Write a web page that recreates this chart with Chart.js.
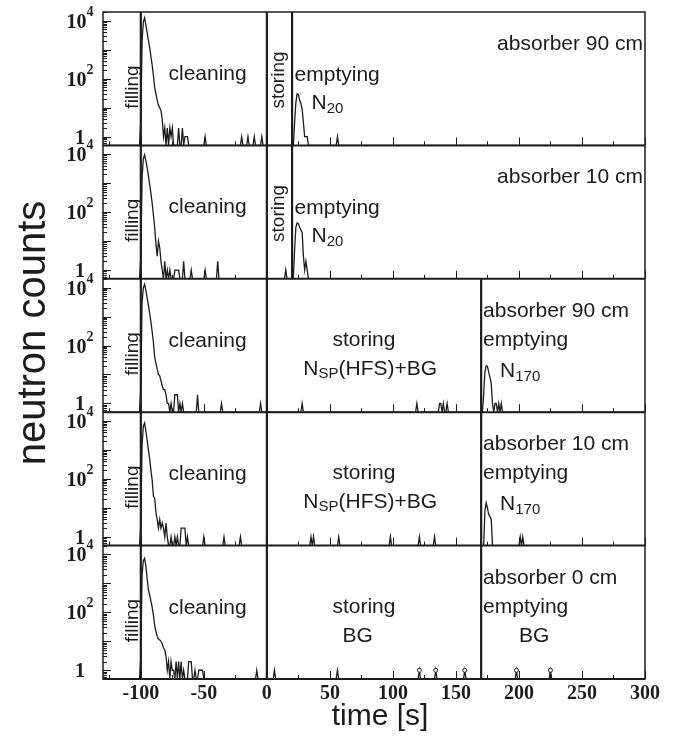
<!DOCTYPE html>
<html>
<head>
<meta charset="utf-8">
<script src="https://cdn.jsdelivr.net/npm/chart.js@4.4.1/dist/chart.umd.min.js"></script>
<style>
  html, body { margin: 0; padding: 0; background: #fff; }
  #wrap { width: 674px; height: 736px; }
</style>
</head>
<body>
<div id="wrap"><canvas id="myChart" width="674" height="736"></canvas></div>
<script>
// time axis [s] and count axis range
const timeMin = -130;
const timeMax = 300;
const countMin = 0.5;
const countMax = 20000;

const xTickLabels = [-100, -50, 0, 50, 100, 150, 200, 250, 300];
const yTickValues = [1, 100, 10000];
const yTickBase = ["1", "10", "10"];
const yTickExp = ["", "2", "4"];

// absorber height for each panel (top to bottom)
const absorberText = ["absorber 90 cm", "absorber 10 cm", "absorber 90 cm", "absorber 10 cm", "absorber 0 cm"];
// end of storing = start of emptying [s]
const storeEnd = [20, 20, 170, 170, 170];

// neutron counts per 1 s bin: [time, counts]; bins not listed are empty
const counts1 = [[-100,4],[-99,2000],[-98,9000],[-97,12600],[-96,7000],[-95,4000],[-94,2200],[-93,1200],[-92,600],[-91,300],[-90,130],[-89,50],[-88,30],[-87,18],[-86,12],[-85,10],[-84,8],[-83,4],[-82,1],[-81,2],[-79,2],[-77,2],[-76,1],[-75,2],[-70,2],[-67,2],[-65,1],[-64,1],[-63,1],[-49,1],[-20,1],[-15,1],[-10,1],[-4,1],[22,3],[23,15],[24,30],[25,28],[26,18],[27,14],[28,9],[29,3],[30,1],[31,1],[32,1],[56,1]];
const counts2 = [[-100,3],[-99,1500],[-98,7000],[-97,9500],[-96,6000],[-95,3500],[-94,1800],[-93,900],[-92,450],[-91,200],[-90,80],[-89,30],[-88,8],[-87,3],[-86,10],[-85,6],[-84,2],[-83,1],[-81,2],[-79,1],[-77,1],[-73,1],[-72,1],[-71,1],[-70,1],[-66,2],[-60,1],[-49,1],[-39,2],[15,1],[22,5],[23,30],[24,42],[25,40],[26,30],[27,24],[28,20],[29,3],[30,1],[31,2],[32,1]];
const counts3 = [[-100,4],[-99,3000],[-98,10000],[-97,12900],[-96,8000],[-95,4500],[-94,2500],[-93,1300],[-92,650],[-91,300],[-90,130],[-89,40],[-88,25],[-87,15],[-86,10],[-85,9],[-84,6],[-83,4],[-82,3],[-81,3],[-80,2],[-79,1],[-78,1],[-76,1],[-73,2],[-72,2],[-71,2],[-69,1],[-67,1],[-55,2],[-36,1],[-5,1],[28,1],[119,1],[137,1],[138,1],[140,1],[143,1],[172,2],[173,12],[174,20],[175,19],[176,12],[177,8],[178,5],[179,1],[181,1],[182,1],[184,1],[186,1]];
const counts4 = [[-100,3],[-99,1500],[-98,6500],[-97,8500],[-96,4500],[-95,2200],[-94,1000],[-93,500],[-92,200],[-91,90],[-90,25],[-89,22],[-88,7],[-87,4],[-86,2],[-85,4],[-84,2],[-83,3],[-82,2],[-81,1],[-80,3],[-79,1],[-76,1],[-73,1],[-71,1],[-68,2],[-67,2],[-66,2],[-65,2],[-63,1],[-50,1],[-34,1],[-21,1],[35,1],[37,1],[57,1],[98,1],[121,1],[133,1],[173,8],[174,15],[175,10],[176,6],[177,5],[178,4],[201,1],[203,1]];
const counts5 = [[-100,3],[-99,2000],[-98,6000],[-97,7300],[-96,4000],[-95,1500],[-94,600],[-93,400],[-92,250],[-91,150],[-90,80],[-89,35],[-88,22],[-87,15],[-86,12],[-85,11],[-84,10],[-83,8],[-82,6],[-81,5],[-80,3],[-79,1],[-78,2],[-76,2],[-75,1],[-74,1],[-72,2],[-70,2],[-68,2],[-66,1],[-62,2],[-61,2],[-60,2],[-57,1],[-54,1],[-53,1],[-52,1],[-51,1],[-8,1],[6,1],[56,1],[121,1],[134,1],[157,1],[198,1],[225,1]];
// single background counts drawn with a small loop in the last panel
const bgMarks = [121, 134, 157, 198, 225];

const allCounts = [counts1, counts2, counts3, counts4, counts5];
const panelAxes = ["y0", "y1", "y2", "y3", "y4"];

// every bin of the time axis; empty bins sit on the floor of the log axis
const toBins = list => {
  const m = new Map(list);
  const out = [];
  for (let t = timeMin; t <= timeMax; t++) out.push({ x: t, y: m.get(t) || countMin });
  return out;
};

const sansFont = "'Liberation Sans', Arial, sans-serif";
const serifFont = "'Liberation Serif', 'Times New Roman', serif";
const ink = "#1c1c1c";

// draw text made of runs (normal / sub / sup)
const drawRuns = (ctx, x, y, runs, align) => {
  let w = 0;
  runs.forEach(r => { ctx.font = r.f; r.w = ctx.measureText(r.t).width; w += r.w; });
  let cx = align === "center" ? x - w / 2 : align === "right" ? x - w : x;
  ctx.textAlign = "left";
  runs.forEach(r => { ctx.font = r.f; ctx.fillText(r.t, cx, y + (r.dy || 0)); cx += r.w; });
};

const line = (ctx, x1, y1, x2, y2) => {
  ctx.beginPath(); ctx.moveTo(x1, y1); ctx.lineTo(x2, y2); ctx.stroke();
};

const framePlugin = {
  id: "frame",
  afterDraw(chart) {
    const ctx = chart.ctx;
    const xs = chart.scales.x;
    const area = chart.chartArea;
    const big = `21px ${sansFont}`;
    const small = `15px ${sansFont}`;
    const vert = `19px ${sansFont}`;
    ctx.save();
    ctx.strokeStyle = ink;
    ctx.fillStyle = ink;
    ctx.textBaseline = "alphabetic";

    panelAxes.forEach((id, i) => {
      const ys = chart.scales[id];
      const top = ys.top, bot = ys.bottom;

      // log ticks on the left, pointing inwards
      ctx.lineWidth = 1;
      for (let e = -1; e <= 4; e++) {
        for (let m = 1; m < 10; m++) {
          const v = m * Math.pow(10, e);
          if (v < countMin || v > countMax) continue;
          const py = Math.round(ys.getPixelForValue(v)) + 0.5;
          line(ctx, area.left, py, area.left + (m === 1 ? 8 : 4), py);
        }
      }
      // time ticks at the bottom of each panel
      for (let t = -125; t <= 300; t += 25) {
        const px = Math.round(xs.getPixelForValue(t)) + 0.5;
        line(ctx, px, bot, px, bot - (t % 50 === 0 ? 8 : 4));
      }
      // panel separator
      ctx.lineWidth = 2;
      line(ctx, area.left, bot, area.right, bot);

      // tick labels of the count axis
      yTickValues.forEach((v, k) => {
        const py = ys.getPixelForValue(v);
        const runs = [{ t: yTickBase[k], f: `bold 20px ${serifFont}` }];
        if (yTickExp[k]) runs.push({ t: yTickExp[k], f: `bold 14px ${serifFont}`, dy: -12 });
        drawRuns(ctx, 80, py + 7, runs, "center");
      });

      // phase lines
      ctx.lineWidth = 2.2;
      [-100, 0, storeEnd[i]].forEach(t => {
        const px = xs.getPixelForValue(t);
        line(ctx, px, top, px, bot);
      });

      // phase labels
      ctx.font = big;
      ctx.textAlign = "center";
      ctx.fillText("cleaning", xs.getPixelForValue(-47), top + 68);
      ctx.save();
      ctx.translate(xs.getPixelForValue(-102.5), top + 75);
      ctx.rotate(-Math.PI / 2);
      ctx.font = vert;
      ctx.fillText("filling", 0, 0);
      ctx.restore();

      if (storeEnd[i] === 20) {
        ctx.save();
        ctx.translate(xs.getPixelForValue(13.5), top + 68);
        ctx.rotate(-Math.PI / 2);
        ctx.font = vert;
        ctx.textAlign = "center";
        ctx.fillText("storing", 0, 0);
        ctx.restore();
        ctx.font = big;
        ctx.textAlign = "left";
        ctx.fillText("emptying", xs.getPixelForValue(22), top + 69);
        drawRuns(ctx, xs.getPixelForValue(35.5), top + 97,
          [{ t: "N", f: big }, { t: "20", f: small, dy: 4 }], "left");
        ctx.font = big;
        ctx.textAlign = "right";
        ctx.fillText(absorberText[i], area.right - 2, top + 38);
      } else {
        const left = xs.getPixelForValue(171.5);
        ctx.font = big;
        ctx.textAlign = "left";
        ctx.fillText(absorberText[i], left, top + 38);
        ctx.fillText("emptying", left, top + 67);
        ctx.textAlign = "center";
        ctx.fillText("storing", xs.getPixelForValue(77), top + 67);
        if (i < 4) {
          drawRuns(ctx, xs.getPixelForValue(82), top + 96,
            [{ t: "N", f: big }, { t: "SP", f: small, dy: 3 }, { t: "(HFS)+BG", f: big }], "center");
          drawRuns(ctx, xs.getPixelForValue(185), top + 98,
            [{ t: "N", f: big }, { t: "170", f: small, dy: 4 }], "left");
        } else {
          ctx.font = big;
          ctx.textAlign = "center";
          ctx.fillText("BG", xs.getPixelForValue(72), top + 96);
          ctx.fillText("BG", xs.getPixelForValue(212), top + 96);
        }
      }
    });

    // outer frame
    ctx.lineWidth = 1.5;
    ctx.strokeRect(area.left, area.top, area.right - area.left, area.bottom - area.top);

    // time tick labels
    ctx.font = `bold 20px ${serifFont}`;
    ctx.textAlign = "center";
    xTickLabels.forEach(t => ctx.fillText(String(t), xs.getPixelForValue(t), area.bottom + 20));

    // axis titles
    ctx.font = `30px ${sansFont}`;
    ctx.fillText("time [s]", 380, 725);
    ctx.save();
    ctx.translate(45, 333);
    ctx.rotate(-Math.PI / 2);
    ctx.font = `40px ${sansFont}`;
    ctx.fillText("neutron counts", 0, 0);
    ctx.restore();
    ctx.restore();
  },
};

const hidden = {
  ticks: { display: false },
  grid: { display: false, drawTicks: false },
  border: { display: false },
};

const scales = {
  x: { type: "linear", min: timeMin, max: timeMax, ...hidden },
};
// stacked axes are laid out bottom-up, so the last panel is declared first
[...panelAxes].reverse().forEach(id => {
  scales[id] = {
    type: "logarithmic",
    min: countMin,
    max: countMax,
    position: "left",
    stack: "panels",
    stackWeight: 1,
    ...hidden,
  };
});

const datasets = allCounts.map((c, i) => ({
  data: toBins(c),
  yAxisID: panelAxes[i],
  borderColor: ink,
  borderWidth: 1.3,
  tension: 0,
  pointRadius: i === 4 ? ctx => (bgMarks.includes(ctx.raw && ctx.raw.x) ? 2 : 0) : 0,
  pointBackgroundColor: "#fff",
  pointBorderColor: ink,
  pointBorderWidth: 1,
}));

const ctx = document.getElementById("myChart").getContext("2d");
const myChart = new Chart(ctx, {
  type: "line",
  data: { datasets },
  options: {
    responsive: false,
    animation: false,
    devicePixelRatio: 1,
    layout: { padding: { left: 103, right: 29, top: 12, bottom: 57 } },
    plugins: { legend: { display: false }, tooltip: { enabled: false } },
    scales,
  },
  plugins: [framePlugin],
});
</script>
</body>
</html>
